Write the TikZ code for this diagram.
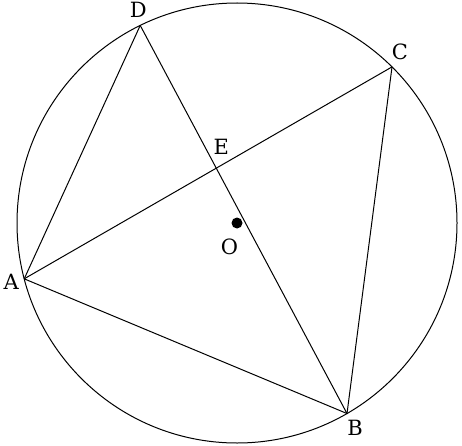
\documentclass[tikz,border=0pt]{standalone}
\usepackage{fontspec}
\setmainfont{DejaVu Serif}
\usetikzlibrary{calc,intersections}
\tikzset{
  %% chord : the sides and diagonals
  chord/.style={line width=1pt},
  %% ptlabel : letters at the points
  ptlabel/.style={font=\fontsize{21}{25}\selectfont, inner sep=0pt, anchor=center}
}
\begin{document}
\begin{tikzpicture}[x=1pt, y=1pt]
  \useasboundingbox (0,0) rectangle (462,445);

  %% Circle and points on it
  \coordinate (O) at (237,222);
  \draw [chord] (O) circle (220);
  \coordinate (A) at ($(O)+(194.7:220)$);
  \coordinate (B) at ($(O)+(300:220)$);
  \coordinate (C) at ($(O)+(45.2:220)$);
  \coordinate (D) at ($(O)+(116.1:220)$);

  %% Quadrilateral and diagonals
  \draw [chord] (A) -- (D);
  \draw [chord] (A) -- (B) -- (C);
  \draw [chord, name path=ac] (A) -- (C);
  \draw [chord, name path=db] (D) -- (B);
  \path [name intersections={of=ac and db, by=E}];

  %% Centre
  \fill (O) circle (5.5);

  %% Labels
  \node [ptlabel] at ($(D)+(-2,15.5)$) {D};
  \node [ptlabel] at ($(C)+(8,15)$) {C};
  \node [ptlabel] at ($(A)+(-13,-3)$) {A};
  \node [ptlabel] at ($(B)+(8,-14)$) {B};
  \node [ptlabel] at ($(E)+(5,21)$) {E};
  \node [ptlabel] at ($(O)+(-7.5,-23.5)$) {O};
\end{tikzpicture}
\end{document}
